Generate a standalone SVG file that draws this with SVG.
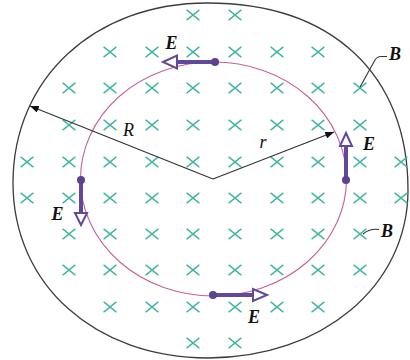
<svg xmlns="http://www.w3.org/2000/svg" width="410" height="360" viewBox="0 0 410 360">
  <defs>
    <style>
      .bound { fill: none; stroke: #3c3c3c; stroke-width: 1.3; }
      .loop { fill: none; stroke: #c8609a; stroke-width: 1.1; }
      .cross { fill: none; stroke: #45b5a3; stroke-width: 1.5; stroke-linecap: round; }
      .vec { stroke: #62489a; stroke-width: 4; stroke-linecap: butt; fill: none; }
      .head { fill: #ffffff; stroke: #62489a; stroke-width: 2; stroke-linejoin: miter; }
      .dot { fill: #5a4290; }
      .ray { fill: none; stroke: #333333; stroke-width: 1.2; }
      .lead { fill: none; stroke: #333333; stroke-width: 1.1; }
      .lbl { font-family: "Liberation Serif", "DejaVu Serif", serif; font-style: italic; font-weight: bold; font-size: 18px; fill: #111111; text-anchor: middle; }
      .lblr { font-family: "Liberation Serif", "DejaVu Serif", serif; font-style: italic; font-size: 18px; fill: #111111; text-anchor: middle; }
    </style>
    <path id="x" class="cross" d="M-6,-4.8L6,4.8M-6,4.8L6,-4.8"/>
    <marker id="tip" viewBox="0 0 10 8" refX="10" refY="4" markerWidth="9" markerHeight="7" markerUnits="userSpaceOnUse" orient="auto">
      <path d="M0,0L10,4L0,8z" fill="#111111"/>
    </marker>
  </defs>

  <rect width="410" height="360" fill="#ffffff"/>

  <g id="boundary">
    <path class="bound" d="M207,3 C331.6,3 408,74 408,190 C408,285.8 322,358 208,358 C94.9,358 13,284.5 13,183 C13,78.6 94.5,3 207,3 Z"/>
  </g>

  <g id="field">
    <use href="#x" x="193" y="15"/><use href="#x" x="235" y="15"/>
    <use href="#x" x="110" y="52"/><use href="#x" x="152" y="52"/><use href="#x" x="193" y="52"/><use href="#x" x="235" y="52"/><use href="#x" x="277" y="52"/><use href="#x" x="318" y="52"/>
    <use href="#x" x="69" y="88"/><use href="#x" x="110" y="88"/><use href="#x" x="152" y="88"/><use href="#x" x="193" y="88"/><use href="#x" x="235" y="88"/><use href="#x" x="277" y="88"/><use href="#x" x="318" y="88"/><use href="#x" x="360" y="88"/>
    <use href="#x" x="69" y="125"/><use href="#x" x="110" y="125"/><use href="#x" x="152" y="125"/><use href="#x" x="193" y="125"/><use href="#x" x="235" y="125"/><use href="#x" x="277" y="125"/><use href="#x" x="318" y="125"/><use href="#x" x="360" y="125"/>
    <use href="#x" x="27" y="162"/><use href="#x" x="69" y="162"/><use href="#x" x="110" y="162"/><use href="#x" x="152" y="162"/><use href="#x" x="193" y="162"/><use href="#x" x="235" y="162"/><use href="#x" x="277" y="162"/><use href="#x" x="318" y="162"/><use href="#x" x="360" y="162"/><use href="#x" x="401" y="162"/>
    <use href="#x" x="27" y="198"/><use href="#x" x="69" y="198"/><use href="#x" x="110" y="198"/><use href="#x" x="152" y="198"/><use href="#x" x="193" y="198"/><use href="#x" x="235" y="198"/><use href="#x" x="277" y="198"/><use href="#x" x="318" y="198"/><use href="#x" x="360" y="198"/><use href="#x" x="401" y="198"/>
    <use href="#x" x="69" y="234"/><use href="#x" x="110" y="234"/><use href="#x" x="152" y="234"/><use href="#x" x="193" y="234"/><use href="#x" x="235" y="234"/><use href="#x" x="277" y="234"/><use href="#x" x="318" y="234"/><use href="#x" x="360" y="234"/>
    <use href="#x" x="69" y="270"/><use href="#x" x="110" y="270"/><use href="#x" x="152" y="270"/><use href="#x" x="193" y="270"/><use href="#x" x="235" y="270"/><use href="#x" x="277" y="270"/><use href="#x" x="318" y="270"/><use href="#x" x="360" y="270"/>
    <use href="#x" x="110" y="307"/><use href="#x" x="152" y="307"/><use href="#x" x="193" y="307"/><use href="#x" x="235" y="307"/><use href="#x" x="277" y="307"/><use href="#x" x="318" y="307"/>
    <use href="#x" x="193" y="343"/><use href="#x" x="235" y="343"/>
  </g>

  <g id="loop">
    <ellipse class="loop" cx="213.5" cy="179" rx="133" ry="117"/>
  </g>

  <g id="connectors">
    <line class="ray" x1="213" y1="179" x2="30" y2="106" marker-end="url(#tip)"/>
    <line class="ray" x1="213" y1="179" x2="334" y2="132" marker-end="url(#tip)"/>
    <path class="lead" d="M360,87 L375,60 Q377,56.5 381,56.5 L387,56.5"/>
    <path class="lead" d="M363,234 Q370,228 379,229.5"/>
  </g>

  <g id="E-top">
    <line class="vec" x1="215" y1="62" x2="177" y2="62"/>
    <circle class="dot" cx="215" cy="62" r="4"/>
    <path class="head" d="M163,62 L177,55.5 L177,68.5 Z"/>
    <text class="lbl" x="171.5" y="49">E</text>
  </g>

  <g id="E-right">
    <line class="vec" x1="346" y1="180" x2="346" y2="146"/>
    <circle class="dot" cx="346" cy="180" r="4"/>
    <path class="head" d="M346,133 L340,146 L352,146 Z"/>
    <text class="lbl" x="369" y="150">E</text>
  </g>

  <g id="E-left">
    <line class="vec" x1="81" y1="180" x2="81" y2="213"/>
    <circle class="dot" cx="81" cy="180" r="4"/>
    <path class="head" d="M81,225 L75,213 L87,213 Z"/>
    <text class="lbl" x="57.5" y="220">E</text>
  </g>

  <g id="E-bottom">
    <line class="vec" x1="213" y1="295" x2="253" y2="295"/>
    <circle class="dot" cx="213" cy="295" r="4"/>
    <path class="head" d="M267,295 L253,289 L253,301 Z"/>
    <text class="lbl" x="254" y="323">E</text>
  </g>

  <g id="label-R"><text class="lblr" x="128.5" y="136">R</text></g>
  <g id="label-r"><text class="lblr" x="263" y="148">r</text></g>
  <g id="label-B-top"><text class="lbl" x="395" y="60">B</text></g>
  <g id="label-B-bottom"><text class="lbl" x="387" y="237">B</text></g>
</svg>
